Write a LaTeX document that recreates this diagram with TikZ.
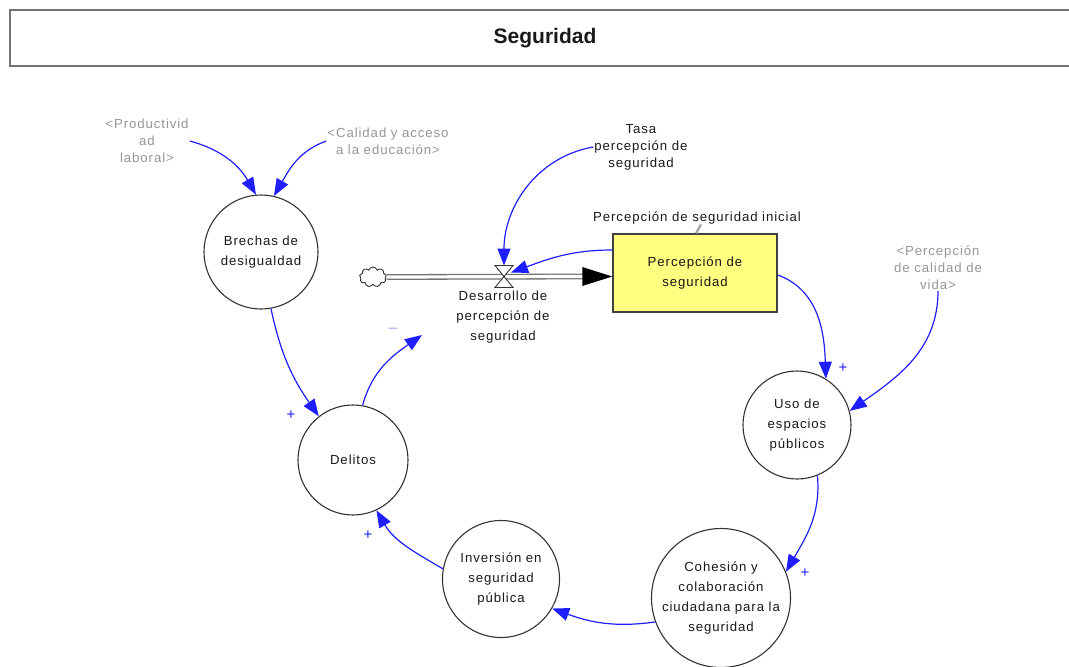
\documentclass[tikz,border=0pt]{standalone}
\usepackage{fontspec}
\usetikzlibrary{arrows.meta,shapes.symbols}
\newfontfamily\vfont[LetterSpace=7]{Liberation Sans}
\newfontfamily\ttlfont{Liberation Sans}
\definecolor{stockfill}{RGB}{255,255,128}
\definecolor{linkblue}{RGB}{30,30,255}
\definecolor{shadowtext}{RGB}{150,150,150}
\begin{document}
\begin{tikzpicture}[x=1pt,y=-1pt,
  titlebox/.style={draw=black!55,line width=1.6pt,minimum width=1070pt,minimum height=56pt,
    font=\ttlfont\bfseries\fontsize{21}{24}\selectfont,text=black!90},
  auxvar/.style={circle,draw=black!80,line width=1.1pt,inner sep=0pt,align=center,
    font=\vfont\fontsize{13.2}{20}\selectfont,text=black!90},
  stockbox/.style={rectangle,draw=black!75,line width=1.5pt,fill=stockfill,
    minimum width=164pt,minimum height=78pt,align=center,
    font=\vfont\fontsize{13.2}{20}\selectfont,text=black!90},
  lbl/.style={inner sep=1pt,align=center,font=\vfont\fontsize{13.2}{17}\selectfont,text=black!90},
  flowlbl/.style={lbl,font=\vfont\fontsize{13.2}{20}\selectfont},
  shadowlbl/.style={lbl,text=shadowtext},
  link/.style={draw=linkblue,line width=1.2pt,-{Triangle[length=17pt,width=13pt]}},
  pol/.style={font=\vfont\fontsize{15}{15}\selectfont,text=linkblue,inner sep=0pt},
  pipe/.style={draw=black!55,line width=1.3pt,double=white,double distance=3.2pt}
]
\useasboundingbox (0,0) rectangle (1069,667);

% header
\node[titlebox] (title) at (545,38) {Seguridad};

% variables
\node[auxvar,minimum size=114pt] (brechas) at (261,252) {Brechas de\\desigualdad};
\node[auxvar,minimum size=110pt] (delitos) at (353,460) {Delitos};
\node[auxvar,minimum size=117pt] (inversion) at (501,579) {Inversión en\\seguridad\\pública};
\node[auxvar,minimum size=139pt] (cohesion) at (721,598) {Cohesión y\\colaboración\\ciudadana para la\\seguridad};
\node[auxvar,minimum size=108pt] (uso) at (797,425) {Uso de\\espacios\\públicos};
\node[stockbox] (stock) at (695,273) {Percepción de\\seguridad};

% labels and shadow variables
\node[shadowlbl] (prod) at (147,141) {<Productivid\\ad\\laboral>};
\node[shadowlbl] (calidad) at (388,141) {<Calidad y acceso\\a la educación>};
\node[shadowlbl] (cvida) at (938,268) {<Percepción\\de calidad de\\vida>};
\node[lbl] (tasa) at (641,147) {Tasa\\percepción de\\seguridad};
\node[lbl] (init) at (697,218) {Percepción de seguridad inicial};
\node[flowlbl] (desarrollo) at (503,317) {Desarrollo de\\percepción de\\seguridad};

% flow: source cloud, pipe, valve
\node[cloud,cloud puffs=9,aspect=1.4,draw=black!80,line width=0.9pt,
  minimum width=27pt,minimum height=20pt,inner sep=0pt] (src) at (373,277) {};
\coordinate (valve) at (504,276.5);
\coordinate (pipeend) at (stock.west |- valve);
\draw[pipe] (src.east) -- ([shift={(-29,0)}]pipeend);
\fill[black] (pipeend) -- ([shift={(-30,-9.5)}]pipeend) -- ([shift={(-30,9.5)}]pipeend) -- cycle;
\draw[fill=white,draw=black!80,line width=0.9pt]
  ([shift={(-9,-11)}]valve) -- ([shift={(9,-11)}]valve) --
  ([shift={(-9,11)}]valve) -- ([shift={(9,11)}]valve) -- cycle;

% initial value link
\draw[draw=black!35,line width=2.2pt] ([shift={(4,-1)}]init.south) -- ([shift={(1,0)}]stock.north);

% causal links
\draw[link] (prod.east) to[out=-15,in=120] (brechas.95);
\draw[link] (calidad.west) to[out=200,in=60] (brechas.77);
\draw[link] (tasa.west) to[out=190,in=90] ([shift={(0,-11)}]valve);
\draw[link] ([shift={(0,-23)}]stock.west) to[out=180,in=20] ([shift={(7,-4)}]valve);
\draw[link] ([shift={(0,2)}]stock.east) to[out=-20,in=92] (uso.58);
\draw[link] (cvida.south) to[out=-90,in=35] (uso.15);
\draw[link] (uso.-68) to[out=-85,in=60] (cohesion.22);
\draw[link] (cohesion.200) to[out=188,in=-20] (inversion.-30);
\draw[link] (inversion.170) to[out=150,in=-60] (delitos.-65);
\draw[link] (brechas.-80) to[out=-78,in=125] (delitos.128);
\coordinate (dfree) at (422,335);
\draw[link] (delitos.80) to[out=75,in=215] (dfree);

% polarities
\node[pol] (p1) at (291,415) {+};
\node[pol] (p2) at (368,535) {+};
\node[pol] (p3) at (843,368) {+};
\node[pol] (p4) at (805,573) {+};
\node[pol,text=linkblue!45] (m1) at (393,330) {\textendash};
\end{tikzpicture}
\end{document}
